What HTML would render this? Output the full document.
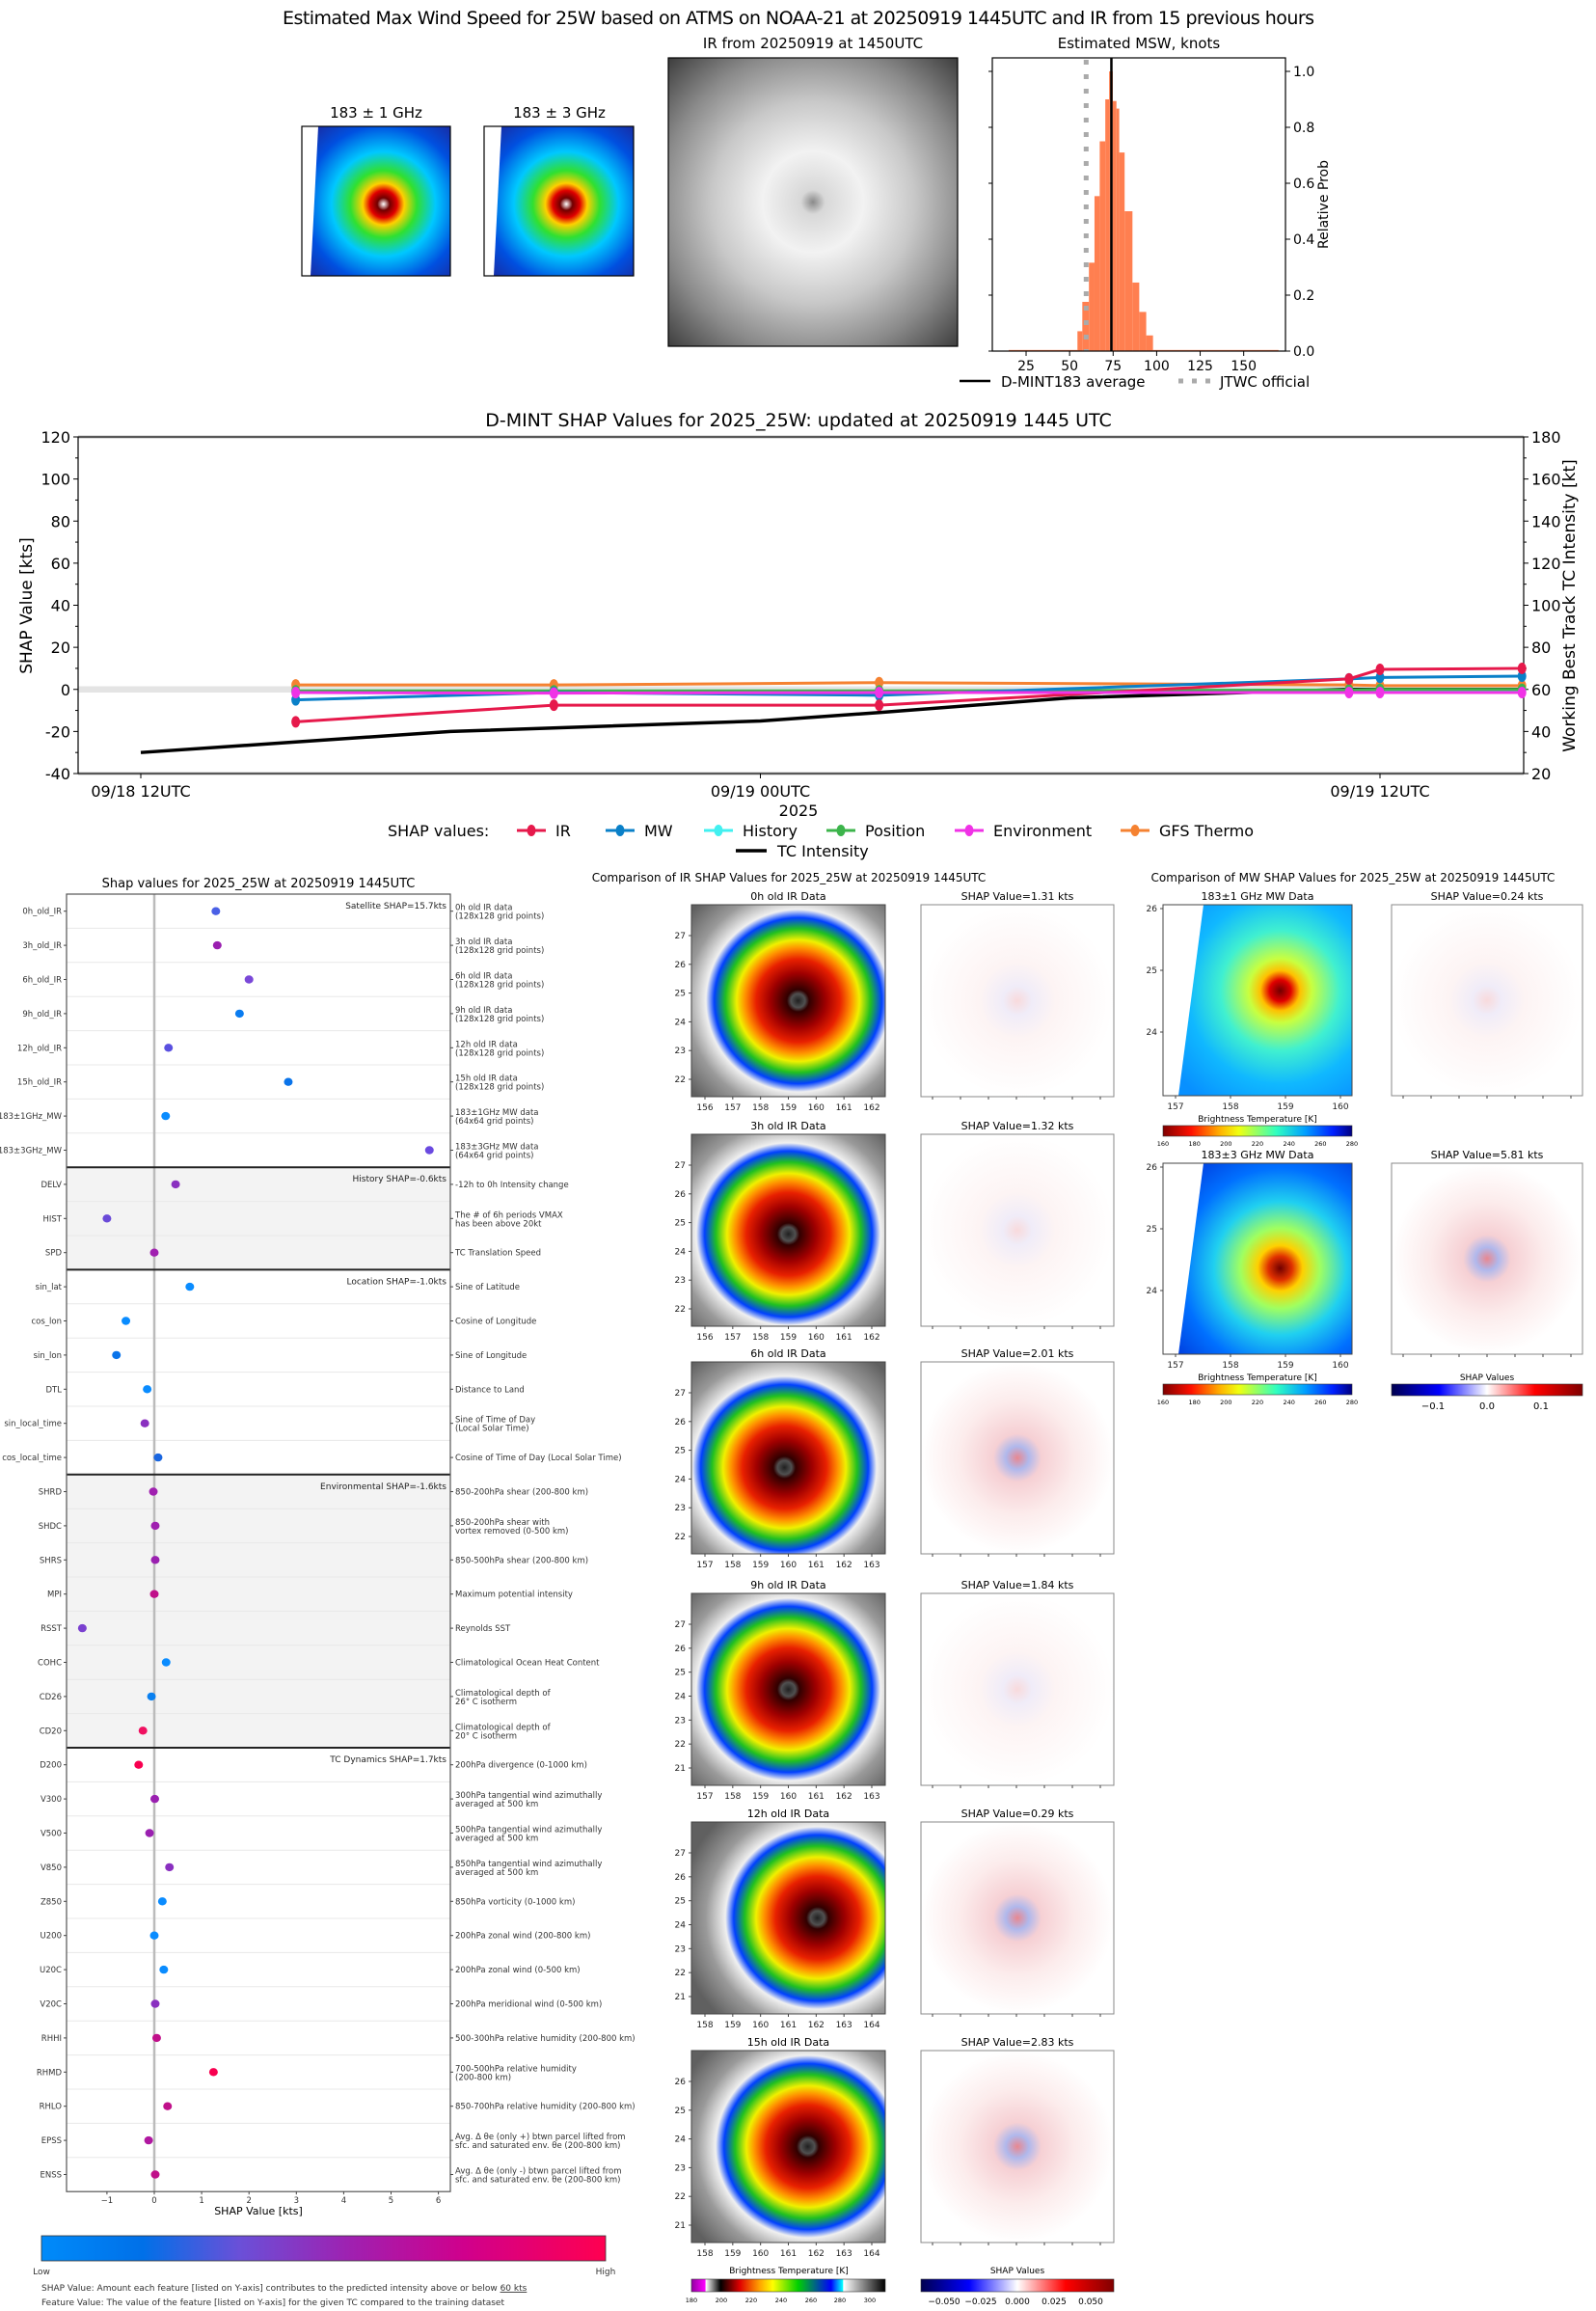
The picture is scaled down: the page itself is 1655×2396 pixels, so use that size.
<!DOCTYPE html>
<html><head><meta charset="utf-8"><title>D-MINT 25W</title>
<style>
html,body{margin:0;padding:0;background:#fff;}
svg{display:block;font-family:"DejaVu Sans","Liberation Sans",sans-serif;}
</style></head>
<body>
<svg id="root" xmlns="http://www.w3.org/2000/svg" width="1655" height="2396" viewBox="0 0 1655 2396">
<defs id="defs">
  <radialGradient id="gIRgray" cx="0.5" cy="0.5" r="0.7">
    <stop offset="0" stop-color="#8a8a8a"/><stop offset="0.06" stop-color="#d8d8d8"/>
    <stop offset="0.25" stop-color="#f2f2f2"/><stop offset="0.5" stop-color="#c8c8c8"/>
    <stop offset="0.75" stop-color="#8a8a8a"/><stop offset="1" stop-color="#404040"/>
  </radialGradient>
  <radialGradient id="gMWtop" cx="0.55" cy="0.52" r="0.7">
    <stop offset="0" stop-color="#ffffff"/><stop offset="0.06" stop-color="#700000"/>
    <stop offset="0.13" stop-color="#e00000"/><stop offset="0.2" stop-color="#ffd000"/>
    <stop offset="0.32" stop-color="#30e030"/><stop offset="0.5" stop-color="#00c8ff"/>
    <stop offset="0.75" stop-color="#0050e0"/><stop offset="1" stop-color="#1a2aa0"/>
  </radialGradient>
  <radialGradient id="gMW" cx="0.62" cy="0.45" r="0.7">
    <stop offset="0" stop-color="#700000"/><stop offset="0.08" stop-color="#e00000"/>
    <stop offset="0.15" stop-color="#ffc000"/><stop offset="0.24" stop-color="#c8ff40"/>
    <stop offset="0.45" stop-color="#40f0d0"/><stop offset="0.7" stop-color="#10b8ff"/>
    <stop offset="1" stop-color="#0890ff"/>
  </radialGradient>
  <radialGradient id="gMW3" cx="0.62" cy="0.55" r="0.7">
    <stop offset="0" stop-color="#700000"/><stop offset="0.09" stop-color="#e03000"/>
    <stop offset="0.17" stop-color="#ffd000"/><stop offset="0.3" stop-color="#a0ff60"/>
    <stop offset="0.5" stop-color="#20d0f0"/><stop offset="0.75" stop-color="#0070ff"/>
    <stop offset="1" stop-color="#0040e0"/>
  </radialGradient>
  <radialGradient id="gIR" cx="0.5" cy="0.5" r="0.72">
    <stop offset="0" stop-color="#202020"/><stop offset="0.05" stop-color="#505050"/>
    <stop offset="0.08" stop-color="#300000"/><stop offset="0.2" stop-color="#a00000"/>
    <stop offset="0.3" stop-color="#e82000"/><stop offset="0.38" stop-color="#ff9000"/>
    <stop offset="0.44" stop-color="#f0f000"/><stop offset="0.52" stop-color="#20c020"/>
    <stop offset="0.6" stop-color="#0040ff"/><stop offset="0.66" stop-color="#f0f0f0"/>
    <stop offset="0.8" stop-color="#9a9a9a"/><stop offset="1" stop-color="#606060"/>
  </radialGradient>
  <radialGradient id="gShap" cx="0.5" cy="0.5" r="0.5">
    <stop offset="0" stop-color="#f8dadc"/><stop offset="0.15" stop-color="#f0ecf8"/>
    <stop offset="0.4" stop-color="#fdf4f4"/><stop offset="1" stop-color="#ffffff"/>
  </radialGradient>
  <radialGradient id="gShapStrong" cx="0.5" cy="0.5" r="0.5">
    <stop offset="0" stop-color="#e88890"/><stop offset="0.12" stop-color="#b0b8ec"/>
    <stop offset="0.25" stop-color="#f6d0d4"/><stop offset="0.6" stop-color="#fcecec"/><stop offset="1" stop-color="#ffffff"/>
  </radialGradient>
  <linearGradient id="gCbShapLeft" x1="0" x2="1">
    <stop offset="0" stop-color="#008bfa"/><stop offset="0.18" stop-color="#0070e8"/>
    <stop offset="0.35" stop-color="#6a50d8"/><stop offset="0.55" stop-color="#a020b0"/>
    <stop offset="0.75" stop-color="#d0008c"/><stop offset="1" stop-color="#ff0050"/>
  </linearGradient>
  <linearGradient id="gCbJet" x1="0" x2="1">
    <stop offset="0" stop-color="#800000"/><stop offset="0.15" stop-color="#ff1000"/>
    <stop offset="0.3" stop-color="#ffb000"/><stop offset="0.4" stop-color="#f0ff10"/>
    <stop offset="0.6" stop-color="#30ffc0"/><stop offset="0.75" stop-color="#00a0ff"/>
    <stop offset="0.9" stop-color="#0020ff"/><stop offset="1" stop-color="#000080"/>
  </linearGradient>
  <linearGradient id="gCbIR" x1="0" x2="1">
    <stop offset="0" stop-color="#9000a0"/><stop offset="0.07" stop-color="#ff00ff"/>
    <stop offset="0.075" stop-color="#ffffff"/><stop offset="0.15" stop-color="#000000"/>
    <stop offset="0.25" stop-color="#e00000"/><stop offset="0.35" stop-color="#ffa000"/>
    <stop offset="0.42" stop-color="#ffff00"/><stop offset="0.55" stop-color="#00d000"/>
    <stop offset="0.72" stop-color="#0000ff"/><stop offset="0.78" stop-color="#00ffff"/>
    <stop offset="0.785" stop-color="#ffffff"/><stop offset="1" stop-color="#000000"/>
  </linearGradient>
  <linearGradient id="gCbSeis" x1="0" x2="1">
    <stop offset="0" stop-color="#000050"/><stop offset="0.25" stop-color="#0000ff"/>
    <stop offset="0.5" stop-color="#ffffff"/><stop offset="0.75" stop-color="#ff0000"/>
    <stop offset="1" stop-color="#800000"/>
  </linearGradient>
</defs>

<text x="828" y="25" font-size="19" text-anchor="middle" textLength="1070">Estimated Max Wind Speed for 25W based on ATMS on NOAA-21 at 20250919 1445UTC and IR from 15 previous hours</text>

<text x="390" y="122" font-size="15" text-anchor="middle">183 ± 1 GHz</text>
<g>
  <rect x="313" y="131" width="154" height="155" fill="url(#gMWtop)"/>
  <polygon points="313,131 330,131 322,286 313,286" fill="#ffffff"/>
  <rect x="313" y="131" width="154" height="155" fill="none" stroke="#000" stroke-width="1.2"/>
</g>
<text x="580" y="122" font-size="15" text-anchor="middle">183 ± 3 GHz</text>
<g>
  <rect x="502" y="131" width="155" height="155" fill="url(#gMWtop)"/>
  <polygon points="502,131 520,131 512,286 502,286" fill="#ffffff"/>
  <rect x="502" y="131" width="155" height="155" fill="none" stroke="#000" stroke-width="1.2"/>
</g>
<text x="843" y="50" font-size="15" text-anchor="middle">IR from 20250919 at 1450UTC</text>
<g>
  <rect x="693" y="60" width="300" height="299" fill="url(#gIRgray)"/>
  <rect x="693" y="60" width="300" height="299" fill="none" stroke="#000" stroke-width="1.2"/>
</g>
<text x="1181" y="50" font-size="15" text-anchor="middle">Estimated MSW, knots</text>
<g id="hist"></g>

<text x="828" y="442" font-size="19" text-anchor="middle">D-MINT SHAP Values for 2025_25W: updated at 20250919 1445 UTC</text>
<g id="ts"></g>

<text x="268" y="920" font-size="13" text-anchor="middle">Shap values for 2025_25W at 20250919 1445UTC</text>
<g id="feat"></g>
<g>
  <rect x="43" y="2318" width="585" height="26" fill="url(#gCbShapLeft)" stroke="#333" stroke-width="0.8"/>
  <text x="43" y="2358" font-size="9" text-anchor="middle" fill="#333">Low</text>
  <text x="628" y="2358" font-size="9" text-anchor="middle" fill="#333">High</text>
  <text x="43" y="2375" font-size="9" fill="#333">SHAP Value: Amount each feature [listed on Y-axis] contributes to the predicted intensity above or below <tspan text-decoration="underline">60 kts</tspan></text>
  <text x="43" y="2390" font-size="9" fill="#333">Feature Value: The value of the feature [listed on Y-axis] for the given TC compared to the training dataset</text>
</g>

<text x="818" y="914" font-size="12" text-anchor="middle">Comparison of IR SHAP Values for 2025_25W at 20250919 1445UTC</text>
<g id="irgrid"></g>
<g>
  <text x="818" y="2357" font-size="9" text-anchor="middle">Brightness Temperature [K]</text>
  <rect x="717" y="2363" width="201" height="13" fill="url(#gCbIR)" stroke="#333" stroke-width="0.6"/>
  <g font-size="6.5" text-anchor="middle">
    <text x="717" y="2387">180</text><text x="748" y="2387">200</text><text x="779" y="2387">220</text><text x="810" y="2387">240</text><text x="841" y="2387">260</text><text x="871" y="2387">280</text><text x="902" y="2387">300</text>
  </g>
</g>
<g>
  <text x="1055" y="2357" font-size="9" text-anchor="middle">SHAP Values</text>
  <rect x="955" y="2363" width="200" height="13" fill="url(#gCbSeis)" stroke="#333" stroke-width="0.6"/>
  <g font-size="9" text-anchor="middle">
    <text x="979" y="2389">−0.050</text><text x="1017" y="2389">−0.025</text><text x="1055" y="2389">0.000</text><text x="1093" y="2389">0.025</text><text x="1131" y="2389">0.050</text>
  </g>
</g>

<text x="1403" y="914" font-size="12" text-anchor="middle">Comparison of MW SHAP Values for 2025_25W at 20250919 1445UTC</text>
<g id="mwgrid"></g>
</svg>

<script>
const NS='http://www.w3.org/2000/svg';
function mk(tag, attrs, parent, txt){const e=document.createElementNS(NS,tag);for(const k in attrs)e.setAttribute(k,attrs[k]);if(txt!==undefined)e.textContent=txt;parent.appendChild(e);return e;}

/* ---------- HISTOGRAM DATA ---------- */
const binLo=[15,54.5,57.3,61.1,64.3,67.3,70.5,72.7,74.8,76.9,78.5,81.6,86.1,90,94,97.9];
const binHi=[54.5,57.3,61.1,64.3,67.3,70.5,72.7,74.8,76.9,78.5,81.6,86.1,90,94,97.9,170];
const binProb=[0.004,0.071,0.176,0.316,0.554,0.75,0.90,1.0,0.894,0.867,0.71,0.5,0.245,0.14,0.056,0.004];
const histXTicks=[25,50,75,100,125,150];
const histYTicks=[0,0.2,0.4,0.6,0.8,1.0];
const dmintAvg=74;
const jtwcOfficial=59.5;

/* ---------- TIME SERIES DATA ---------- */
const shapHours=[3,8,14.3,23.4,24,26.75];
const irShap=[-15.4,-7.5,-7.5,5,9.5,10];
const mwShap=[-5,-1.5,-2.8,5,5.7,6.3];
const historyShap=[-1,-1,-1,-0.5,-0.5,-0.5];
const positionShap=[-0.7,-0.7,-0.7,-0.3,0,0];
const envShap=[-1.5,-1.8,-1.5,-1.5,-1.5,-1.5];
const gfsShap=[2.1,2.1,3.2,2.1,1.8,1.8];
const tcHours=[0,3,6,12,14.3,18,23.4,26.75];
const tcIntensity=[30,35,40,45,49,56,60,60];
const leftTicks=[-40,-20,0,20,40,60,80,100,120];
const rightTicks=[20,40,60,80,100,120,140,160,180];
const xTickHours=[0,12,24];
const xTickLabels=['09/18 12UTC','09/19 00UTC','09/19 12UTC'];

/* ---------- FEATURE DATA ---------- */
const featNames=['0h_old_IR','3h_old_IR','6h_old_IR','9h_old_IR','12h_old_IR','15h_old_IR','183±1GHz_MW','183±3GHz_MW','DELV','HIST','SPD','sin_lat','cos_lon','sin_lon','DTL','sin_local_time','cos_local_time','SHRD','SHDC','SHRS','MPI','RSST','COHC','CD26','CD20','D200','V300','V500','V850','Z850','U200','U20C','V20C','RHHI','RHMD','RHLO','EPSS','ENSS'];
const featShap=[1.3,1.33,2.0,1.8,0.3,2.83,0.24,5.81,0.45,-1.0,0.0,0.75,-0.6,-0.8,-0.15,-0.2,0.08,-0.02,0.02,0.02,0.0,-1.52,0.25,-0.06,-0.24,-0.33,0.01,-0.1,0.32,0.17,0.0,0.2,0.02,0.05,1.25,0.28,-0.12,0.02];
const featColor=['#4a60e6','#9a1fb0','#7a48d8','#0a7cf0','#5a50e0','#0a74ea','#0a8cff','#6a4ae0','#8a30c0','#6a4ad8','#a020b0','#0a8cff','#0a8cff','#0a74ea','#0a8cff','#8a30c0','#1a66e0','#a020b0','#a020b0','#9a20b0','#c0108a','#7a40d0','#0a8cff','#0a80f0','#f01060','#f80050','#9a20b0','#9a20b0','#8a30c0','#0a8cff','#0a8cff','#0a8cff','#8a30c0','#c0108a','#f80050','#c0108a','#b018a0','#c0108a'];
const featDesc=['0h old IR data|(128x128 grid points)','3h old IR data|(128x128 grid points)','6h old IR data|(128x128 grid points)','9h old IR data|(128x128 grid points)','12h old IR data|(128x128 grid points)','15h old IR data|(128x128 grid points)','183±1GHz MW data|(64x64 grid points)','183±3GHz MW data|(64x64 grid points)','-12h to 0h Intensity change','The # of 6h periods VMAX|has been above 20kt','TC Translation Speed','Sine of Latitude','Cosine of Longitude','Sine of Longitude','Distance to Land','Sine of Time of Day|(Local Solar Time)','Cosine of Time of Day (Local Solar Time)','850-200hPa shear (200-800 km)','850-200hPa shear with|vortex removed (0-500 km)','850-500hPa shear (200-800 km)','Maximum potential intensity','Reynolds SST','Climatological Ocean Heat Content','Climatological depth of|26° C isotherm','Climatological depth of|20° C isotherm','200hPa divergence (0-1000 km)','300hPa tangential wind azimuthally|averaged at 500 km','500hPa tangential wind azimuthally|averaged at 500 km','850hPa tangential wind azimuthally|averaged at 500 km','850hPa vorticity (0-1000 km)','200hPa zonal wind (200-800 km)','200hPa zonal wind (0-500 km)','200hPa meridional wind (0-500 km)','500-300hPa relative humidity (200-800 km)','700-500hPa relative humidity|(200-800 km)','850-700hPa relative humidity (200-800 km)','Avg. Δ θe (only +) btwn parcel lifted from|sfc. and saturated env. θe (200-800 km)','Avg. Δ θe (only -) btwn parcel lifted from|sfc. and saturated env. θe (200-800 km)'];
const groupStart=[0,8,11,17,25];
const groupEnd=[7,10,16,24,37];
const groupLabel=['Satellite SHAP=15.7kts','History SHAP=-0.6kts','Location SHAP=-1.0kts','Environmental SHAP=-1.6kts','TC Dynamics SHAP=1.7kts'];
const groupShaded=[false,true,false,true,false];
const featXTicks=[-1,0,1,2,3,4,5,6];

/* ---------- IR / MW GRID DATA ---------- */
const irRowTitles=['0h old IR Data','3h old IR Data','6h old IR Data','9h old IR Data','12h old IR Data','15h old IR Data'];
const irShapValues=['1.31','1.32','2.01','1.84','0.29','2.83'];
const irLonStart=[156,156,157,157,158,158];
const irLatStart=[22,22,22,21,21,21];
const irLatEnd=[27,27,27,27,27,26];
const mwTitles=['183±1 GHz MW Data','183±3 GHz MW Data'];
const mwShapValues=['0.24','5.81'];
const mwLon=[157,158,159,160];
const mwLat=[24,25,26];
const jetTicks=[160,180,200,220,240,260,280];
const seisTicks=['−0.1','0.0','0.1'];

/* ---------- HISTOGRAM DRAW ---------- */
(function(){
  const g=document.getElementById('hist');
  const L=1029,R=1333,T=60,B=364,x0=5.6,x1=174;
  const xH=v=>L+(v-x0)*(R-L)/(x1-x0);
  const yH=p=>B-p*290;
  binLo.forEach((lo,i)=>{
    const r=mk('rect',{x:xH(lo),y:yH(binProb[i]),width:xH(binHi[i])-xH(lo),height:B-yH(binProb[i]),fill:'#ff7f50'},g);
    
    
  });
  const jl=mk('line',{x1:xH(jtwcOfficial),x2:xH(jtwcOfficial),y1:T+2,y2:B,stroke:'#aaaaaa','stroke-width':5,'stroke-dasharray':'5,10'},g);
  
  
  const al=mk('line',{x1:xH(dmintAvg),x2:xH(dmintAvg),y1:T,y2:B,stroke:'#000','stroke-width':2.5},g);
  
  
  mk('rect',{x:L,y:T,width:R-L,height:B-T,fill:'none',stroke:'#000','stroke-width':1.2},g);
  histXTicks.forEach(v=>{
    mk('line',{x1:xH(v),x2:xH(v),y1:B,y2:B+5,stroke:'#000'},g);
    const t=mk('text',{x:xH(v),y:B+20,'font-size':14,'text-anchor':'middle'},g,String(v));
    
    
  });
  histYTicks.forEach(v=>{
    mk('line',{x1:R,x2:R+5,y1:yH(v),y2:yH(v),stroke:'#000'},g);
    mk('line',{x1:L-4,x2:L,y1:yH(v),y2:yH(v),stroke:'#000'},g);
    const t=mk('text',{x:R+8,y:yH(v)+5,'font-size':14},g,v.toFixed(1));
    
    
  });
  const yl=mk('text',{x:1377,y:212,'font-size':14,'text-anchor':'middle',transform:'rotate(-90 1377 212)'},g,'Relative Prob');
  
  
  mk('line',{x1:995,x2:1027,y1:395,y2:395,stroke:'#000','stroke-width':2.5},g);
  const l1=mk('text',{x:1038,y:401,'font-size':15},g,'D-MINT183 average');
  
  
  mk('line',{x1:1222,x2:1256,y1:395,y2:395,stroke:'#aaaaaa','stroke-width':5,'stroke-dasharray':'5,9'},g);
  const l2=mk('text',{x:1265,y:401,'font-size':15},g,'JTWC official');
  
  
})();

/* ---------- TIME SERIES DRAW ---------- */
(function(){
  const g=document.getElementById('ts');
  const L=81,R=1580,T=453,B=802;
  const xT=h=>146+h*(1431-146)/24;
  const yL=v=>B-(v+40)*(B-T)/160;
  const yR=k=>yL(k-60);
  mk('rect',{x:L,y:yL(1.5),width:R-L,height:yL(-1.5)-yL(1.5),fill:'#e4e4e4'},g);
  mk('line',{x1:L,x2:R,y1:T,y2:T,stroke:'#ddd','stroke-width':4},g);
  mk('line',{x1:L,x2:R,y1:B,y2:B,stroke:'#ddd','stroke-width':4},g);
  mk('rect',{x:L,y:T,width:R-L,height:B-T,fill:'none',stroke:'#000','stroke-width':1.2},g);
  leftTicks.forEach(v=>{
    mk('line',{x1:L-5,x2:L,y1:yL(v),y2:yL(v),stroke:'#000'},g);
    const t=mk('text',{x:L-8,y:yL(v)+6,'font-size':16,'text-anchor':'end'},g,String(v));
    
    
  });
  for(let v=-30;v<120;v+=20){mk('line',{x1:L-3,x2:L,y1:yL(v),y2:yL(v),stroke:'#000'},g);mk('line',{x1:R,x2:R+3,y1:yL(v),y2:yL(v),stroke:'#000'},g);}
  rightTicks.forEach(v=>{
    mk('line',{x1:R,x2:R+5,y1:yR(v),y2:yR(v),stroke:'#000'},g);
    const t=mk('text',{x:R+8,y:yR(v)+6,'font-size':16},g,String(v));
    
    
  });
  xTickHours.forEach((h,i)=>{
    mk('line',{x1:xT(h),x2:xT(h),y1:B,y2:B+5,stroke:'#000'},g);
    const t=mk('text',{x:xT(h),y:B+24,'font-size':16,'text-anchor':'middle'},g,xTickLabels[i]);
    
    
  });
  const yr=mk('text',{x:828,y:846,'font-size':16,'text-anchor':'middle'},g,'2025');
  
  
  const ylt=mk('text',{x:33,y:628,'font-size':17,'text-anchor':'middle',transform:'rotate(-90 33 628)'},g,'SHAP Value [kts]');
  
  
  const yrt=mk('text',{x:1633,y:628,'font-size':17,'text-anchor':'middle',transform:'rotate(-90 1633 628)'},g,'Working Best Track TC Intensity [kt]');
  
  

  const tp=tcHours.map((h,i)=>xT(h)+','+yR(tcIntensity[i])).join(' ');
  const tl=mk('polyline',{points:tp,fill:'none',stroke:'#000','stroke-width':3.5},g);
  
  

  const series=[
    {name:'gfs-thermo',vals:gfsShap,color:'#f58231'},
    {name:'history',vals:historyShap,color:'#42f0f0'},
    {name:'position',vals:positionShap,color:'#3cb44b'},
    {name:'mw',vals:mwShap,color:'#0a80c8'},
    {name:'ir',vals:irShap,color:'#e6194b'},
    {name:'environment',vals:envShap,color:'#f032e6'}
  ];
  series.forEach(s=>{
    const pts=shapHours.map((h,i)=>xT(h)+','+yL(s.vals[i])).join(' ');
    const pl=mk('polyline',{points:pts,fill:'none',stroke:s.color,'stroke-width':3},g);
    
    
    shapHours.forEach((h,i)=>{
      const c=mk('ellipse',{cx:xT(h),cy:yL(s.vals[i]),rx:4.5,ry:6,fill:s.color},g);
      
      
    });
  });

  const ly=861;
  const lt=mk('text',{x:402,y:ly+6,'font-size':16},g,'SHAP values:');
  
  
  const leg=[['IR','#e6194b',536],['MW','#0a80c8',628],['History','#42f0f0',730],['Position','#3cb44b',857],['Environment','#f032e6',990],['GFS Thermo','#f58231',1162]];
  leg.forEach(e=>{
    mk('line',{x1:e[2],x2:e[2]+30,y1:ly,y2:ly,stroke:e[1],'stroke-width':3},g);
    mk('ellipse',{cx:e[2]+15,cy:ly,rx:4.5,ry:6,fill:e[1]},g);
    const t=mk('text',{x:e[2]+40,y:ly+6,'font-size':16},g,e[0]);
    
    
  });
  mk('line',{x1:763,x2:795,y1:882,y2:882,stroke:'#000','stroke-width':3.5},g);
  const tt=mk('text',{x:806,y:888,'font-size':16},g,'TC Intensity');
  
  
})();

/* ---------- FEATURE SHAP DRAW ---------- */
(function(){
  const g=document.getElementById('feat');
  const L=69,R=467,T=927,rowH=35.4;
  const n=featNames.length;
  const B=T+n*rowH;
  const xF=v=>160+v*49.1;
  const yF=i=>T+(i+0.5)*rowH;
  groupStart.forEach((s,k)=>{
    if(groupShaded[k]) mk('rect',{x:L,y:T+s*rowH,width:R-L,height:(groupEnd[k]-s+1)*rowH,fill:'#f3f3f3'},g);
  });
  for(let i=1;i<n;i++) mk('line',{x1:L,x2:R,y1:T+i*rowH,y2:T+i*rowH,stroke:'#e8e8e8','stroke-width':1},g);
  mk('line',{x1:xF(0),x2:xF(0),y1:T,y2:B,stroke:'#bbbbbb','stroke-width':2.5},g);
  groupStart.forEach((s,k)=>{
    if(k>0) mk('line',{x1:L,x2:R,y1:T+s*rowH,y2:T+s*rowH,stroke:'#222','stroke-width':2},g);
    const t=mk('text',{x:R-4,y:T+s*rowH+15,'font-size':9,'text-anchor':'end',fill:'#222'},g,groupLabel[k]);
    
    
  });
  mk('rect',{x:L,y:T,width:R-L,height:B-T,fill:'none',stroke:'#555','stroke-width':1.2},g);
  featNames.forEach((nm,i)=>{
    const y=yF(i);
    mk('line',{x1:L-3,x2:L,y1:y,y2:y,stroke:'#444'},g);
    mk('line',{x1:R,x2:R+3,y1:y,y2:y,stroke:'#444'},g);
    const t=mk('text',{x:L-5,y:y+3,'font-size':8.5,'text-anchor':'end',fill:'#333'},g,nm);
    
    
    const parts=featDesc[i].split('|');
    const d=mk('text',{x:R+5,y:parts.length>1?y-1:y+3,'font-size':8.5,fill:'#333'},g);
    
    
    parts.forEach((p,j)=>{mk('tspan',{x:R+5,dy:j?9:0},d,p);});
    const c=mk('ellipse',{cx:xF(featShap[i]),cy:y,rx:4.5,ry:4.2,fill:featColor[i]},g);
    
    
  });
  featXTicks.forEach(v=>{
    mk('line',{x1:xF(v),x2:xF(v),y1:B,y2:B+3,stroke:'#444'},g);
    const t=mk('text',{x:xF(v),y:B+12,'font-size':8.5,'text-anchor':'middle',fill:'#333'},g,v<0?'−'+Math.abs(v):String(v));
    
    
  });
  const xt=mk('text',{x:268,y:B+24,'font-size':11,'text-anchor':'middle'},g,'SHAP Value [kts]');
  
  
})();

/* ---------- IR COMPARISON GRID ---------- */
(function(){
  const g=document.getElementById('irgrid');
  const defs=document.getElementById('defs');
  const tops=[938,1176,1412,1652,1889,2126];
  const H=199, xI=717, xS=955, W=201;
  const centers=[[0.55,0.5],[0.5,0.52],[0.48,0.55],[0.5,0.5],[0.65,0.5],[0.6,0.5]];
  tops.forEach((top,i)=>{
    const t=mk('text',{x:xI+W/2,y:top-5,'font-size':11,'text-anchor':'middle'},g,irRowTitles[i]);
    
    
    const gid='gIRr'+i;
    const rg=mk('radialGradient',{id:gid,cx:centers[i][0],cy:centers[i][1],r:0.72},defs);
    document.querySelectorAll('#gIR stop').forEach(s=>{mk('stop',{offset:s.getAttribute('offset'),'stop-color':s.getAttribute('stop-color')},rg);});
    const img=mk('rect',{x:xI,y:top,width:W,height:H,fill:'url(#'+gid+')',stroke:'#444','stroke-width':1},g);
    
    
    for(let j=0;j<=6;j++){
      const v=irLonStart[i]+j;
      const x=xI+14+j*(W-28)/6;
      mk('line',{x1:x,x2:x,y1:top+H,y2:top+H+3,stroke:'#444'},g);
      mk('text',{x:x,y:top+H+14,'font-size':9,'text-anchor':'middle',fill:'#222'},g,String(v));
    }
    const nl=irLatEnd[i]-irLatStart[i];
    for(let v=irLatStart[i];v<=irLatEnd[i];v++){
      const y=top+H-18-(v-irLatStart[i])*(H-50)/nl;
      mk('line',{x1:xI-3,x2:xI,y1:y,y2:y,stroke:'#444'},g);
      mk('text',{x:xI-6,y:y+3,'font-size':9,'text-anchor':'end',fill:'#222'},g,String(v));
    }
    const st=mk('text',{x:xS+100,y:top-5,'font-size':11,'text-anchor':'middle'},g,'SHAP Value='+irShapValues[i]+' kts');
    
    
    const strong=(i==2||i==4||i==5);
    const sm=mk('rect',{x:xS,y:top,width:200,height:H,fill:strong?'url(#gShapStrong)':'url(#gShap)',stroke:'#888','stroke-width':1},g);
    
    
    for(let j=0;j<7;j++){const x=xS+12+j*29;mk('line',{x1:x,x2:x,y1:top+H,y2:top+H+3,stroke:'#444'},g);}
  });
})();

/* ---------- MW COMPARISON GRID ---------- */
(function(){
  const g=document.getElementById('mwgrid');
  const tops=[938,1206];
  const xM=1206,W=196,H=198,xS=1443,WS=198;
  tops.forEach((top,i)=>{
    const t=mk('text',{x:xM+W/2,y:top-5,'font-size':11,'text-anchor':'middle'},g,mwTitles[i]);
    
    
    const img=mk('rect',{x:xM,y:top,width:W,height:H,fill:i?'url(#gMW3)':'url(#gMW)'},g);
    
    
    mk('polygon',{points:xM+','+top+' '+(xM+42)+','+top+' '+(xM+16)+','+(top+H)+' '+xM+','+(top+H),fill:'#fff'},g);
    mk('rect',{x:xM,y:top,width:W,height:H,fill:'none',stroke:'#444','stroke-width':1},g);
    mwLon.forEach((v,j)=>{
      const x=xM+13+j*57;
      mk('line',{x1:x,x2:x,y1:top+H,y2:top+H+3,stroke:'#444'},g);
      mk('text',{x:x,y:top+H+14,'font-size':9,'text-anchor':'middle',fill:'#222'},g,String(v));
    });
    mwLat.forEach((v,j)=>{
      const y=top+H-66-j*64;
      mk('line',{x1:xM-3,x2:xM,y1:y,y2:y,stroke:'#444'},g);
      mk('text',{x:xM-6,y:y+3,'font-size':9,'text-anchor':'end',fill:'#222'},g,String(v));
    });
    const st=mk('text',{x:xS+WS/2,y:top-5,'font-size':11,'text-anchor':'middle'},g,'SHAP Value='+mwShapValues[i]+' kts');
    
    
    const sm=mk('rect',{x:xS,y:top,width:WS,height:H,fill:i?'url(#gShapStrong)':'url(#gShap)',stroke:'#888','stroke-width':1},g);
    
    
    for(let j=0;j<7;j++){const x=xS+12+j*29;mk('line',{x1:x,x2:x,y1:top+H,y2:top+H+3,stroke:'#444'},g);}
    const cy=i?1435:1167;
    const cl=mk('text',{x:xM+W/2,y:cy-4,'font-size':9,'text-anchor':'middle'},g,'Brightness Temperature [K]');
    
    
    const cb=mk('rect',{x:xM,y:cy,width:W,height:11,fill:'url(#gCbJet)',stroke:'#333','stroke-width':0.6},g);
    
    
    jetTicks.forEach((v,j)=>{mk('text',{x:xM+j*W/6,y:cy+21,'font-size':6.5,'text-anchor':'middle'},g,String(v));});
  });
  const sl=mk('text',{x:xS+WS/2,y:1431,'font-size':9,'text-anchor':'middle'},g,'SHAP Values');
  
  
  const sb=mk('rect',{x:xS,y:1435,width:WS,height:12,fill:'url(#gCbSeis)',stroke:'#333','stroke-width':0.6},g);
  
  
  seisTicks.forEach((v,j)=>{mk('text',{x:xS+WS/2+(j-1)*56,y:1461,'font-size':10,'text-anchor':'middle'},g,v);});
})();
</script>
</body></html>
